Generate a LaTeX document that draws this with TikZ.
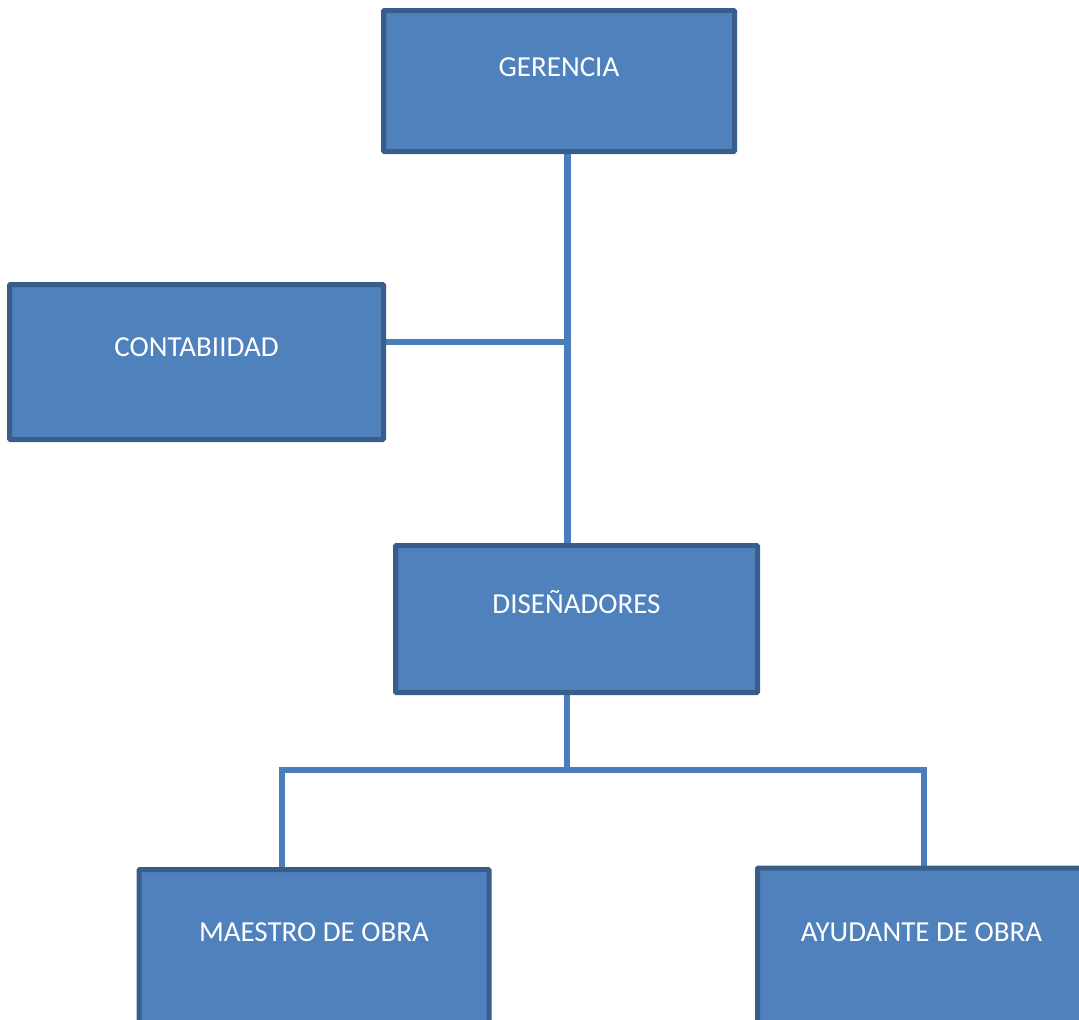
\documentclass[tikz,border=0pt]{standalone}
\usepackage{fontspec}
\setmainfont{Carlito}
\usetikzlibrary{backgrounds}
\definecolor{boxfill}{HTML}{4F81BD}
\definecolor{boxdraw}{HTML}{385D8A}
\definecolor{linkcol}{HTML}{4A7EBB}
\begin{document}
\begin{tikzpicture}[x=1pt,y=-1pt,
  orgbox/.style={draw=boxdraw,fill=boxfill,line width=5pt,rounded corners=1pt,inner sep=0pt},
  orgtext/.style={text=white,anchor=base,inner sep=0pt,font=\fontsize{29}{34}\selectfont},
  link/.style={draw=linkcol,line width=6pt}]
\useasboundingbox (0,0) rectangle (1079,1020);
\begin{scope}
\clip (0,0) rectangle (1079,1020);
% junction coordinates
\coordinate (j1) at (567,342);
\coordinate (j2) at (567,770);
\coordinate (jl) at (282,770);
\coordinate (jr) at (924,770);
% boxes
\node[orgbox,minimum width=351pt,minimum height=141pt] (ger) at (559,81) {};
\node[orgbox,minimum width=374pt,minimum height=155pt] (con) at (196.5,362) {};
\node[orgbox,minimum width=362pt,minimum height=147pt] (dis) at (576.5,619) {};
\node[orgbox,minimum width=350pt,minimum height=200pt] (mae) at (314,969.5) {};
\node[orgbox,minimum width=328pt,minimum height=200pt] (ayu) at (921.5,968) {};
% connectors behind the boxes
\begin{pgfonlayer}{background}
\draw[link,line width=7pt] (j1 |- ger.south) -- (j1 |- dis.north);
\draw[link,line width=5.5pt] (j1 -| con.east) -- (j1);
\draw[link] (j2 |- dis.south) -- (j2);
\draw[link] ([xshift=-3pt]jl) -- ([xshift=3pt]jr);
\draw[link] (jl) -- (jl |- mae.north);
\draw[link] (jr) -- (jr |- ayu.north);
\end{pgfonlayer}
\end{scope}
% texts
\node[orgtext] (gert) at (559,76) {GERENCIA};
\node[orgtext] (cont) at (196.5,356.5) {CONTABIIDAD};
\node[orgtext] (dist) at (576.5,613) {DISEÑADORES};
\node[orgtext] (maet) at (314,941) {MAESTRO DE OBRA};
\node[orgtext] (ayut) at (921.5,941) {AYUDANTE DE OBRA};
\end{tikzpicture}
\end{document}
